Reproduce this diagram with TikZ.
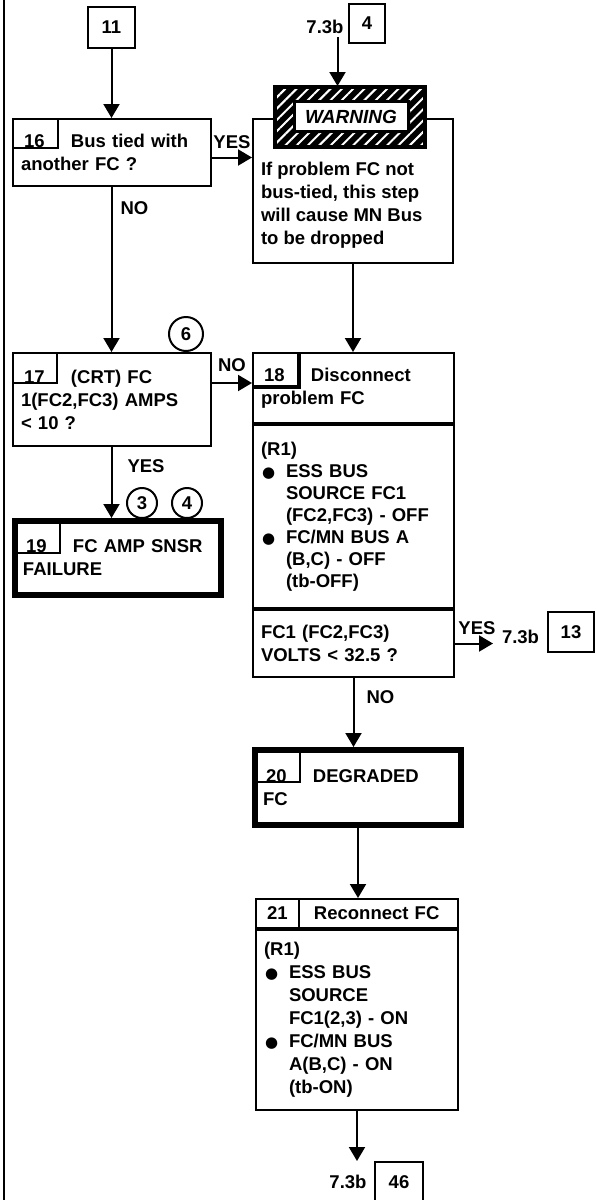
\documentclass[tikz,border=0pt]{standalone}
\usepackage{fontspec}
\setmainfont{Liberation Sans}
\newfontfamily\bulletfont{DejaVu Sans}
\usepackage{tikz}
\usetikzlibrary{positioning, arrows.meta, patterns.meta}
\newcommand{\RefPg}{7.3b}
\newcommand{\StepNo}[1]{\makebox[50pt][l]{\hspace*{3pt}#1}}
\newcommand{\Blt}{\makebox[25pt][l]{\hspace*{1pt}{\bulletfont\fontsize{15}{15}\selectfont ●}}}
\newcommand{\Ind}{\hspace*{25pt}}

\begin{document}
\begin{tikzpicture}[
    x=1pt, y=-1pt,
    font=\fontsize{18.5}{23}\selectfont\bfseries,
    line width=2pt,
    step_box/.style={draw, line width=2pt, inner xsep=8pt, inner ysep=4pt, align=left, anchor=north west},
    end_box/.style={step_box, line width=6pt},
    ref_box/.style={draw, line width=2pt, inner sep=0pt},
    ref_text/.style={inner sep=2pt},
    flow_arrow/.style={-{Triangle[length=14pt,width=16pt]}, line width=2pt},
    branch_label/.style={inner sep=2pt},
    conn_circle/.style={circle, draw, line width=2pt, inner sep=0pt, minimum size=30pt}
]

    % 0. PAGE AND LEFT RULE
    \useasboundingbox (0,0) rectangle (595,1200);
    \draw[line width=2.5pt] (4,0) -- (4,1200);

    % 1. ENTRY 11 AND STEP 16
    \node[ref_box, minimum width=47pt, minimum height=41pt] (n11) at (111.5,27.5) {11};
    \node[step_box, text width=182pt, minimum height=67pt] (s16) at (12,118) {\StepNo{16}Bus tied with\\another FC ?};
    \draw (s16.north west) ++(46,0) |- ++(-46,30);

    % 2. STEP 17 AND STEP 19
    \node[step_box, text width=182pt, minimum height=93pt] (s17) at (12,352) {\StepNo{17}(CRT) FC\\1(FC2,FC3) AMPS\\< 10 ?};
    \draw (s17.north west) ++(45,0) |- ++(-45,31);
    \node[conn_circle, minimum size=34pt] (c6) at (186,334) {6};

    \node[end_box, text width=190pt, minimum height=74pt] (s19) at (12,518) {\StepNo{19}FC AMP SNSR\\FAILURE};
    \draw (s19.north west) ++(48,0) |- ++(-48,35);
    \node[conn_circle] (c3) at (142,503) {3};
    \node[conn_circle] (c4) at (187,503) {4};

    % 3. WARNING BLOCK
    \node[ref_text] (t4) at (325,27) {\RefPg};
    \node[ref_box, minimum width=36pt, minimum height=39pt] (b4) at (367,23.5) {4};
    \node[step_box, minimum width=200pt, minimum height=140pt, inner ysep=15pt] (cau) at (252,118) {\parbox[c][110pt][b]{184pt}{If problem FC not\\bus-tied, this step\\will cause MN Bus\\to be dropped}};
    \node[draw, line width=4pt, minimum width=150pt, minimum height=60pt, preaction={fill=black},
          pattern={Lines[angle=45,distance=8pt,line width=2pt]}, pattern color=white] (warn) at (350,117) {};
    \node[fill=white, draw, line width=3pt, minimum width=114pt, minimum height=30pt, inner sep=0pt,
          font=\fontsize{19}{23}\selectfont\bfseries\itshape] (warntxt) at (351,116.5) {WARNING};

    % 4. STEP 18
    \node[step_box, text width=185pt, minimum height=70pt] (s18a) at (252,352) {\StepNo{18}Disconnect\\problem FC};
    \draw[line width=4pt] (s18a.north west) ++(47,0) |- ++(-47,35);
    \node[step_box, text width=185pt, minimum height=183pt, below=0pt of s18a, font=\fontsize{18.5}{22}\selectfont\bfseries] (s18b) {(R1)\\\Blt ESS BUS\\\Ind SOURCE FC1\\\Ind (FC2,FC3) - OFF\\\Blt FC/MN BUS A\\\Ind (B,C) - OFF\\\Ind (tb-OFF)};
    \node[step_box, text width=185pt, minimum height=67pt, below=0pt of s18b] (s18c) {FC1 (FC2,FC3)\\VOLTS < 32.5 ?};

    \node[ref_text, anchor=west] (t13) at (499,637) {\RefPg};
    \node[ref_box, minimum width=46pt, minimum height=40pt] (b13) at (571,632) {13};

    % 5. STEP 20 AND STEP 21
    \node[end_box, text width=190pt, minimum height=75pt] (s20) at (252,747) {\StepNo{20}DEGRADED\\FC};
    \draw (s20.north west) ++(48,0) |- ++(-48,35);

    \node[step_box, text width=186pt, minimum height=29pt, inner ysep=0pt] (s21a) at (255,898) {\StepNo{21}Reconnect FC};
    \draw (s21a.north west) ++(44,0) -- ([xshift=44pt]s21a.south west);
    \node[step_box, text width=186pt, minimum height=180pt, below=0pt of s21a] (s21b) {(R1)\\\Blt ESS BUS\\\Ind SOURCE\\\Ind FC1(2,3) - ON\\\Blt FC/MN BUS\\\Ind A(B,C) - ON\\\Ind (tb-ON)};

    \node[ref_text] (t46) at (348,1182) {\RefPg};
    \node[ref_box, minimum width=48pt, minimum height=40pt] (b46) at (399,1182) {46};

    % 6. FLOW LINES
    \coordinate (in4) at ([xshift=-9pt]t4.south east);
    \draw[flow_arrow] (in4) -- (in4 |- warn.north);
    \draw[flow_arrow] (n11.south) -- (n11.south |- s16.north);
    \draw[flow_arrow] ([yshift=-5pt]s16.east) -- ([yshift=-5pt]s16.east -| cau.west) node[branch_label, midway, above=6pt] (yes16) {YES};
    \draw[flow_arrow] (n11.south |- s16.south) -- (n11.south |- s17.north) node[branch_label, pos=0.13, right=6pt] (no16) {NO};
    \draw[flow_arrow] (cau.south) -- (cau.south |- s18a.north);
    \draw[flow_arrow] ([yshift=-31pt]s17.north east) -- ([yshift=-31pt]s17.north east -| s18a.west) node[branch_label, midway, above=8pt] (no17) {NO};
    \draw[flow_arrow] (n11.south |- s17.south) -- (n11.south |- s19.north) node[branch_label, pos=0.27, right=13pt] (yes17) {YES};
    \draw[flow_arrow, shorten >=6pt] (s18c.east) -- (s18c.east -| t13.west) node[branch_label, midway, above=6pt] (yes18) {YES};
    \draw[flow_arrow] (s18c.south) -- (s18c.south |- s20.north) node[branch_label, pos=0.27, right=10pt] (no18) {NO};
    \draw[flow_arrow] (s20.south) -- (s20.south |- s21a.north);
    \draw[flow_arrow] (s21b.south) -- (s21b.south |- b46.north);

\end{tikzpicture}
\end{document}
